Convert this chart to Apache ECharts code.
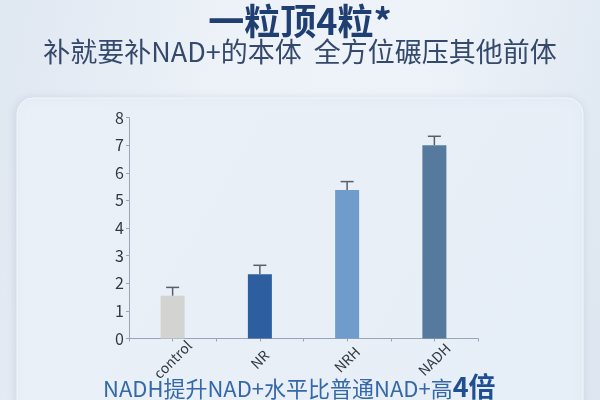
<!DOCTYPE html>
<html>
<head>
<meta charset="utf-8">
<script src="https://cdn.jsdelivr.net/npm/echarts@6/dist/echarts.min.js"></script>
<style>
  html, body { margin: 0; padding: 0; width: 600px; height: 400px; overflow: hidden; }
  body { background: linear-gradient(100deg, #dfe7f1 0%, #edf2f8 35%, #eef3f9 65%, #dde6f0 100%); }
  #chart { width: 600px; height: 400px; }
</style>
</head>
<body>
<div id="chart"></div>
<script>
const categories = ['control', 'NR', 'NRH', 'NADH'];
const values = [1.55, 2.33, 5.38, 7.0];
const errors = [0.3, 0.32, 0.3, 0.32];
const barColors = ['#d3d3d1', '#2d5fa0', '#6f9cca', '#567a9e'];
const yTicks = { min: 0, max: 8, interval: 1 };
const titleText = '一粒顶4粒*';
const subtitleText = '补就要补NAD+的本体  全方位碾压其他前体';
const footText = 'NADH提升NAD+水平比普通NAD+高';
const footBold = '4倍';

const FONT = '"Noto Sans CJK SC", "Noto Sans", sans-serif';
const chart = echarts.init(document.getElementById('chart'), null, { renderer: 'canvas' });

const tickSlots = [];
for (let i = 0; i < categories.length * 2; i++) tickSlots.push(String(i));

chart.setOption({
  animation: false,
  backgroundColor: 'transparent',
  graphic: [
    {
      type: 'rect', z: -10, silent: true,
      shape: { x: 17, y: 98, width: 566, height: 330, r: 16 },
      style: {
        fill: new echarts.graphic.LinearGradient(0, 0, 1, 1, [
          { offset: 0, color: '#eaf0f7' },
          { offset: 1, color: '#e6eef7' }
        ]),
        stroke: '#f3f7fb', lineWidth: 1,
        shadowBlur: 8, shadowColor: 'rgba(120,140,170,0.22)', shadowOffsetX: -1, shadowOffsetY: 1
      }
    },
    {
      type: 'text', left: 'center', top: 3,
      style: { text: titleText, font: 'bold 36px ' + FONT, fill: '#1f3e72' }
    },
    {
      type: 'text', left: 'center', top: 38,
      style: { text: subtitleText, font: '27px ' + FONT, fill: '#34496b' }
    },
    {
      type: 'text', left: 103, top: 373,
      style: {
        text: '{a|' + footText + '}{b|' + footBold + '}',
        rich: {
          a: { font: '22px ' + FONT, fill: '#3568a8', verticalAlign: 'bottom' },
          b: { font: 'bold 27px ' + FONT, fill: '#1f4f92', verticalAlign: 'bottom' }
        }
      }
    }
  ],
  grid: { left: 129, right: 122, top: 117.5, bottom: 61.5 },
  xAxis: [
    {
      type: 'category',
      data: categories,
      axisLine: { lineStyle: { color: '#9aa6b6', width: 1 } },
      axisTick: { show: false },
      axisLabel: {
        rotate: 45, align: 'center', verticalAlign: 'middle', margin: 21,
        color: '#333840', fontSize: 14, fontFamily: FONT
      }
    },
    {
      type: 'category',
      data: tickSlots,
      position: 'bottom',
      axisLine: { show: false },
      axisTick: { show: true, length: 3, lineStyle: { color: '#9aa6b6' } },
      axisLabel: { show: false }
    }
  ],
  yAxis: {
    type: 'value',
    min: yTicks.min, max: yTicks.max, interval: yTicks.interval,
    splitLine: { show: false },
    axisLine: { show: true, lineStyle: { color: '#9aa6b6', width: 1 } },
    axisTick: { show: true, length: 3, lineStyle: { color: '#9aa6b6' } },
    axisLabel: { color: '#333840', fontSize: 16, fontFamily: FONT, margin: 5 }
  },
  series: [
    {
      type: 'bar',
      xAxisIndex: 0,
      barWidth: 24,
      data: values.map((v, i) => ({ value: v, itemStyle: { color: barColors[i] } })),
      z: 2
    },
    {
      type: 'custom',
      xAxisIndex: 0,
      z: 3,
      data: values.map((v, i) => [i, v, v + errors[i]]),
      renderItem: function (params, api) {
        const base = api.coord([api.value(0), api.value(1)]);
        const top = api.coord([api.value(0), api.value(2)]);
        const half = 6.5;
        const st = { stroke: '#56606c', lineWidth: 1.5 };
        return {
          type: 'group',
          children: [
            { type: 'line', shape: { x1: base[0], y1: base[1], x2: top[0], y2: top[1] }, style: st },
            { type: 'line', shape: { x1: top[0] - half, y1: top[1], x2: top[0] + half, y2: top[1] }, style: st }
          ]
        };
      }
    }
  ]
});
</script>
</body>
</html>
